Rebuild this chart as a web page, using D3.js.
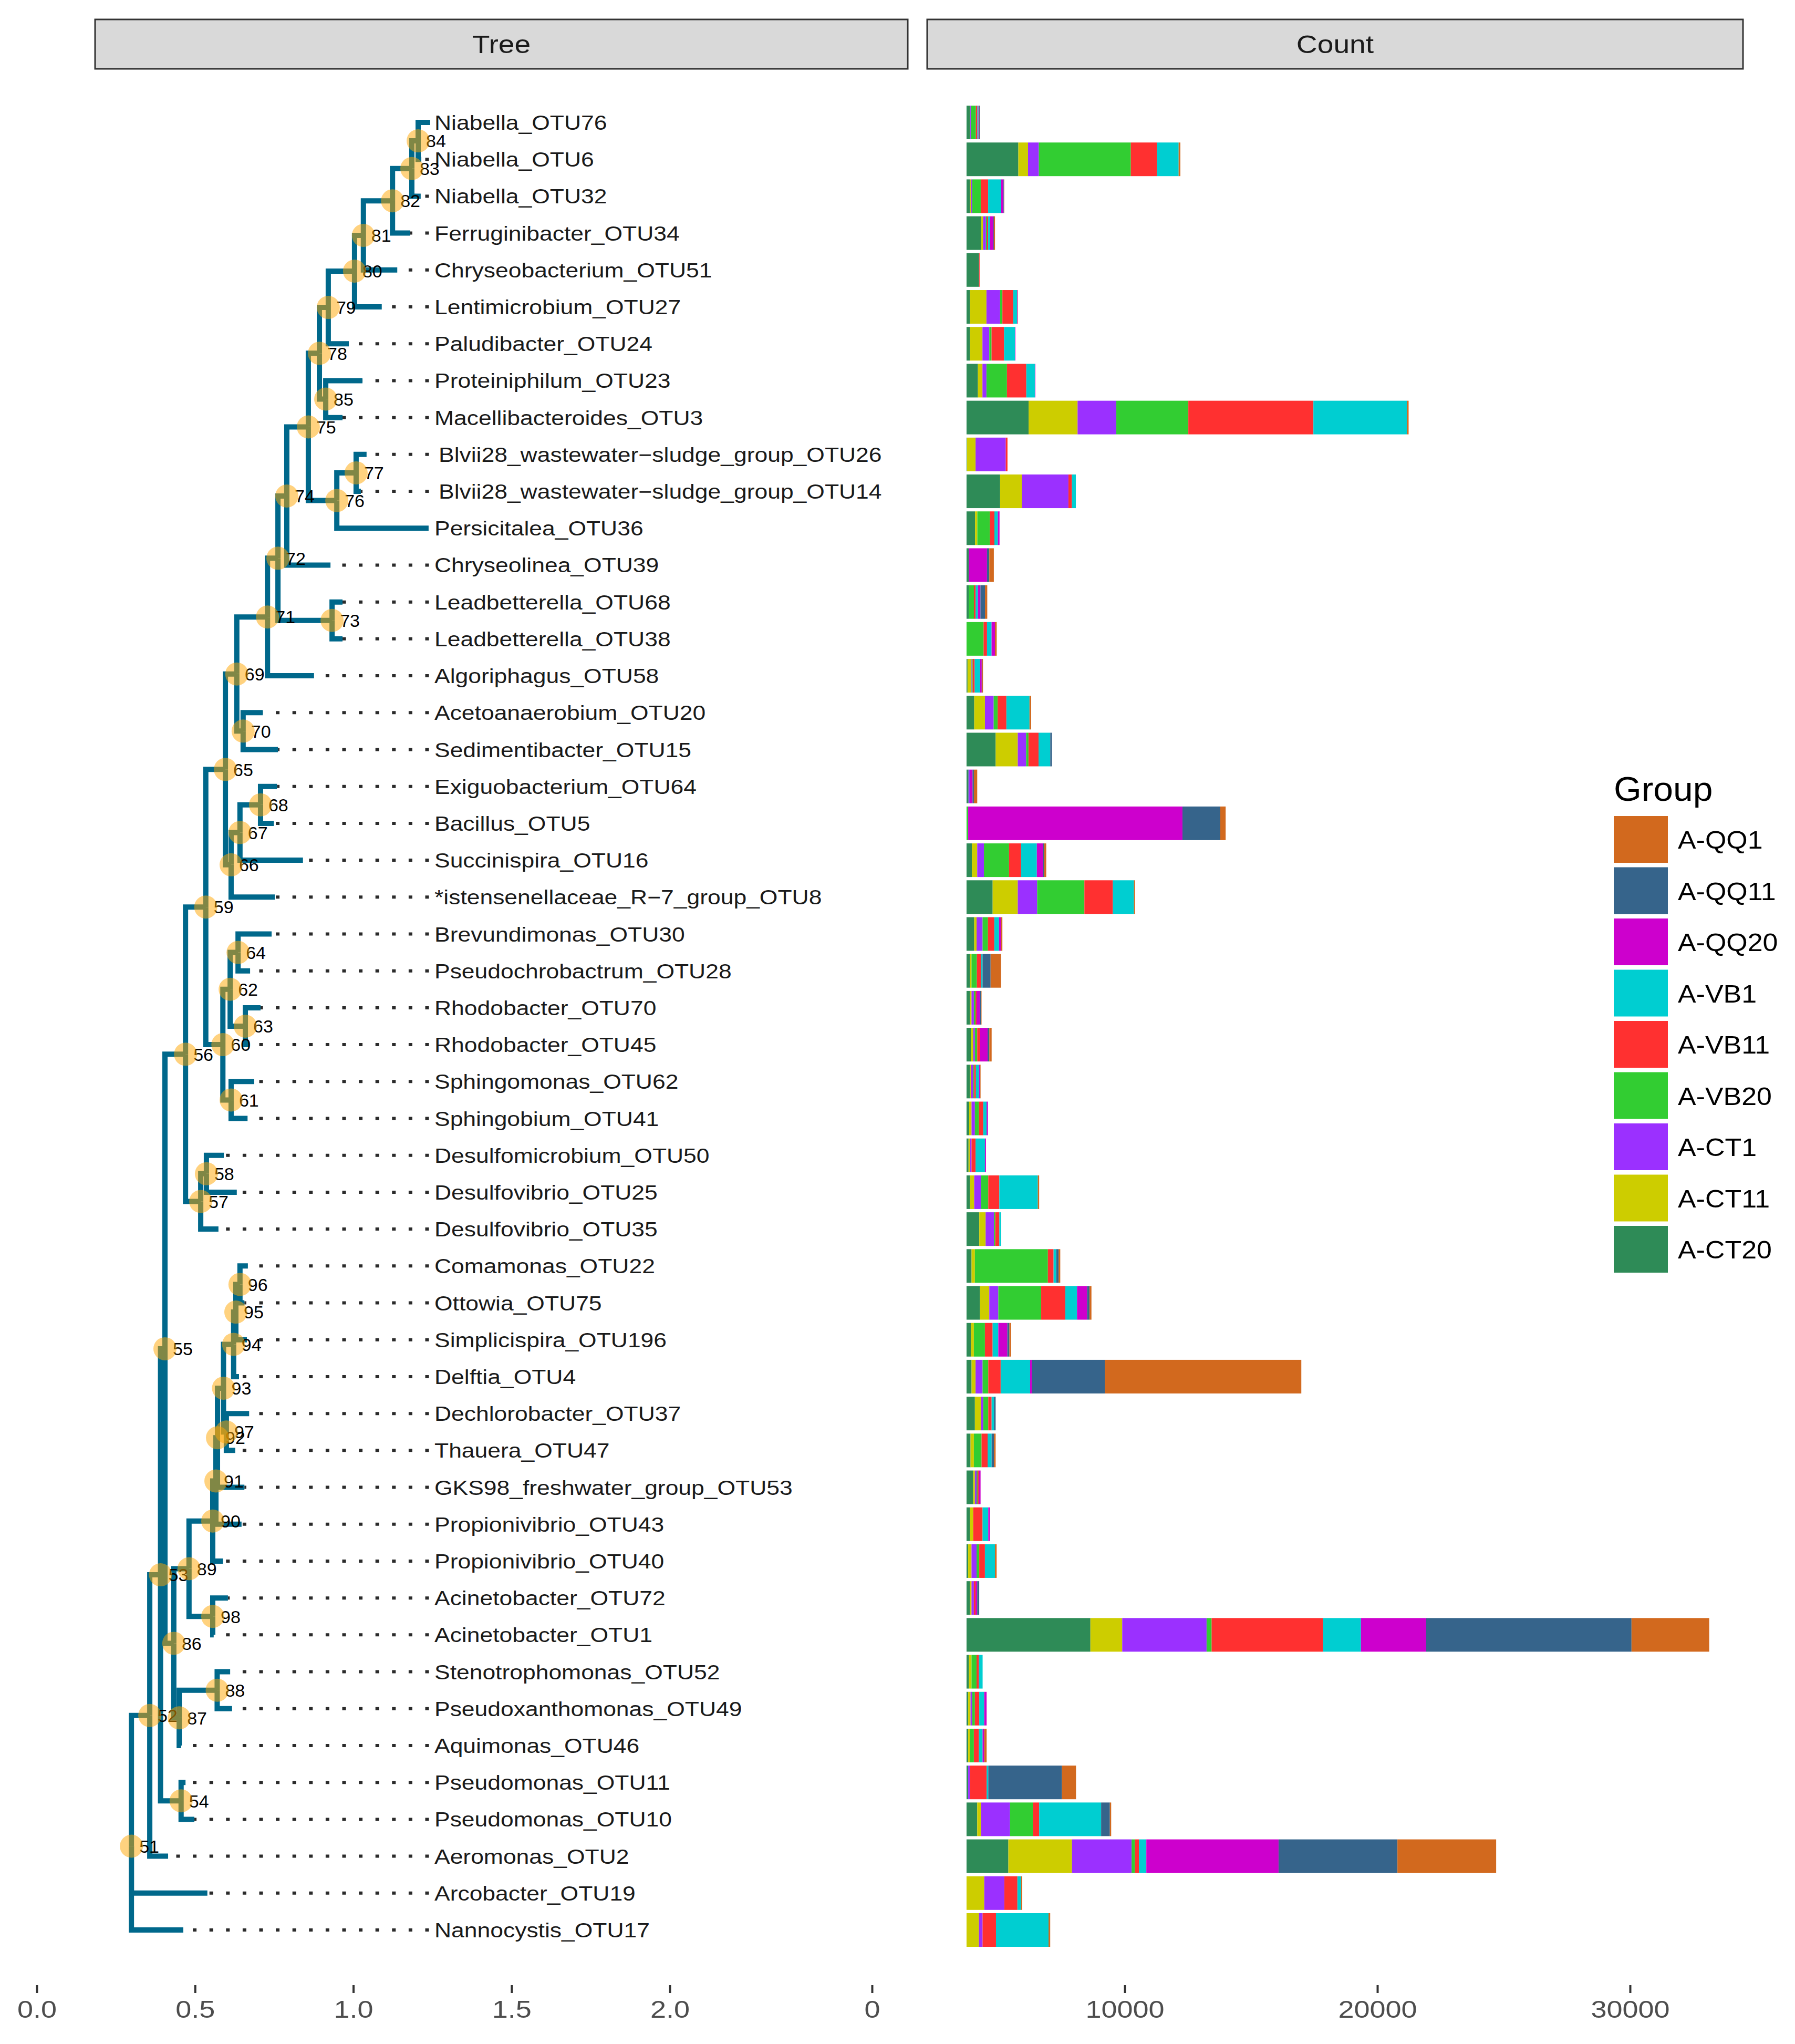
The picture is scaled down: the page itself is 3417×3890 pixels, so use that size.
<!DOCTYPE html>
<html>
<head>
<meta charset="utf-8">
<script src="https://cdn.jsdelivr.net/npm/d3@7"></script>
<style>
  body { margin: 0; background: #fff; }
  text { font-family: "Liberation Sans", Arial, Helvetica, sans-serif; }
</style>
</head>
<body>
<script>
// tips, top to bottom
const tipLabels = [
  "Niabella_OTU76", "Niabella_OTU6", "Niabella_OTU32", "Ferruginibacter_OTU34",
  "Chryseobacterium_OTU51", "Lentimicrobium_OTU27", "Paludibacter_OTU24", "Proteiniphilum_OTU23",
  "Macellibacteroides_OTU3", "Blvii28_wastewater\u2212sludge_group_OTU26", "Blvii28_wastewater\u2212sludge_group_OTU14",
  "Persicitalea_OTU36", "Chryseolinea_OTU39", "Leadbetterella_OTU68", "Leadbetterella_OTU38",
  "Algoriphagus_OTU58", "Acetoanaerobium_OTU20", "Sedimentibacter_OTU15", "Exiguobacterium_OTU64",
  "Bacillus_OTU5", "Succinispira_OTU16", "*istensenellaceae_R\u22127_group_OTU8", "Brevundimonas_OTU30",
  "Pseudochrobactrum_OTU28", "Rhodobacter_OTU70", "Rhodobacter_OTU45", "Sphingomonas_OTU62",
  "Sphingobium_OTU41", "Desulfomicrobium_OTU50", "Desulfovibrio_OTU25", "Desulfovibrio_OTU35",
  "Comamonas_OTU22", "Ottowia_OTU75", "Simplicispira_OTU196", "Delftia_OTU4", "Dechlorobacter_OTU37",
  "Thauera_OTU47", "GKS98_freshwater_group_OTU53", "Propionivibrio_OTU43", "Propionivibrio_OTU40",
  "Acinetobacter_OTU72", "Acinetobacter_OTU1", "Stenotrophomonas_OTU52", "Pseudoxanthomonas_OTU49",
  "Aquimonas_OTU46", "Pseudomonas_OTU11", "Pseudomonas_OTU10", "Aeromonas_OTU2", "Arcobacter_OTU19",
  "Nannocystis_OTU17"
];
const tipParent = [84, 84, 83, 82, 81, 80, 79, 85, 85, 77, 77, 76, 74, 73, 73, 71, 70, 70, 68, 68,
  67, 66, 64, 64, 63, 63, 61, 61, 58, 58, 57, 96, 96, 95, 94, 97, 97, 92, 91, 90,
  98, 98, 88, 88, 87, 54, 54, 52, 51, 51];
const tipDepth = [1.243, 1.215, 1.213, 1.180, 1.139, 1.090, 0.986, 1.029, 0.966, 1.042,
  1.024, 1.238, 0.928, 0.966, 0.966, 0.876, 0.714, 0.762, 0.759, 0.749,
  0.841, 0.752, 0.742, 0.674, 0.707, 0.672, 0.687, 0.666, 0.591, 0.632,
  0.574, 0.667, 0.656, 0.664, 0.639, 0.671, 0.627, 0.656, 0.647, 0.588,
  0.604, 0.559, 0.611, 0.617, 0.456, 0.470, 0.498, 0.415, 0.539, 0.463];

// internal nodes 51..98
const nodeIds = d3.range(51, 99);
const nodeParent = [null, 51, 52, 53, 53, 55, 56, 57, 56, 59, 60, 60, 62, 62, 59, 65, 66, 67, 65, 69,
  69, 71, 72, 72, 74, 75, 76, 75, 78, 79, 80, 81, 82, 83, 78, 55, 86, 87, 86, 89,
  90, 91, 92, 93, 94, 95, 93, 89];
const nodeDepth = [0.299, 0.357, 0.391, 0.456, 0.405, 0.470, 0.518, 0.536, 0.534, 0.588,
  0.614, 0.611, 0.659, 0.636, 0.596, 0.614, 0.642, 0.707, 0.632, 0.652,
  0.729, 0.762, 0.933, 0.790, 0.858, 0.948, 1.009, 0.893, 0.921, 1.004,
  1.032, 1.124, 1.185, 1.205, 0.913, 0.433, 0.450, 0.570, 0.481, 0.556,
  0.566, 0.571, 0.590, 0.622, 0.629, 0.642, 0.599, 0.556];

// counts per group, stacked left to right in this order
const groups = ["A-CT20", "A-CT11", "A-CT1", "A-VB20", "A-VB11", "A-VB1", "A-QQ20", "A-QQ11", "A-QQ1"];
const groupColors = ["#2E8B57", "#CDCD00", "#9B30FF", "#32CD32", "#FF3030", "#00CED1", "#CD00CD", "#36648B", "#D2691E"];
const ct20 = [130, 2051, 135, 586, 496, 135, 135, 451, 2457, 20, 1330, 338, 90, 90, 0, 40, 305, 1153, 80, 0,
  212, 1034, 305, 132, 132, 172, 132, 106, 80, 132, 504, 199, 530, 172, 199, 331, 159, 265, 132, 66,
  132, 4903, 93, 66, 66, 66, 424, 1656, 0, 0];
const ct11 = [20, 383, 45, 68, 0, 654, 496, 180, 1938, 338, 856, 90, 0, 0, 0, 133, 424, 875, 0, 0,
  212, 994, 93, 66, 66, 93, 40, 93, 53, 172, 252, 132, 371, 119, 159, 238, 132, 66, 132, 132,
  66, 1259, 106, 93, 66, 0, 146, 2518, 702, 490];
const ct1 = [20, 428, 45, 113, 0, 541, 270, 158, 1533, 1195, 1848, 0, 0, 0, 0, 30, 345, 331, 53, 0,
  265, 769, 238, 0, 93, 66, 93, 132, 66, 265, 331, 0, 358, 0, 278, 93, 0, 66, 0, 199,
  93, 3339, 0, 66, 0, 66, 1153, 2359, 795, 146];
const vb20 = [200, 3640, 338, 45, 0, 90, 90, 811, 2850, 0, 0, 496, 0, 203, 676, 40, 159, 93, 0, 66,
  994, 1868, 212, 212, 66, 93, 40, 159, 0, 292, 53, 2889, 1696, 437, 225, 199, 305, 40, 0, 106,
  0, 199, 199, 106, 159, 0, 901, 132, 0, 0];
const vb11 = [60, 1037, 293, 45, 22, 428, 496, 766, 4950, 68, 135, 180, 0, 68, 135, 80, 345, 398, 0, 0,
  477, 1126, 252, 172, 40, 106, 66, 172, 159, 437, 159, 225, 954, 305, 490, 132, 238, 53, 371, 225,
  66, 4412, 93, 172, 199, 663, 252, 159, 517, 530];
const vb1 = [40, 856, 518, 68, 0, 158, 428, 338, 3700, 0, 158, 135, 0, 90, 180, 212, 914, 464, 0, 0,
  623, 835, 186, 53, 0, 0, 119, 132, 371, 1524, 66, 106, 464, 225, 1166, 93, 159, 0, 225, 398,
  0, 1497, 146, 199, 146, 66, 2451, 292, 146, 2080];
const qq20 = [20, 0, 90, 135, 0, 20, 20, 20, 0, 0, 0, 68, 721, 100, 135, 66, 0, 0, 106, 8480,
  238, 0, 80, 0, 132, 305, 40, 53, 40, 0, 0, 0, 398, 358, 66, 0, 0, 66, 66, 0,
  66, 2584, 0, 93, 66, 0, 0, 5234, 0, 0];
const qq11 = [30, 0, 20, 22, 0, 0, 0, 0, 0, 0, 0, 0, 90, 180, 0, 20, 0, 66, 53, 1497,
  53, 0, 0, 318, 40, 66, 0, 0, 0, 0, 0, 93, 93, 80, 2889, 66, 93, 0, 0, 0,
  80, 8125, 0, 0, 0, 2915, 345, 4704, 0, 0];
const qq1 = [20, 68, 10, 45, 0, 10, 0, 0, 68, 0, 0, 0, 180, 90, 68, 30, 66, 0, 132, 212,
  80, 40, 53, 411, 26, 93, 26, 0, 0, 53, 0, 66, 80, 66, 7778, 0, 66, 0, 0, 66,
  0, 3075, 0, 0, 93, 557, 53, 3907, 40, 66];

const treeTicks = [0, 0.5, 1, 1.5, 2];
const countTicks = [0, 10000, 20000, 30000];
const countOrigin = 3740; // bars start here on the count axis

const W = 3417, H = 3890;
const font = '"Liberation Sans", Arial, Helvetica, sans-serif';

const svg = d3.select("body").append("svg")
  .attr("width", W).attr("height", H)
  .style("display", "block");

const treeX = d3.scaleLinear().domain([0, 2]).range([70, 1275]);
const countX = d3.scaleLinear().domain([0, 30000]).range([1660, 3103]);
const rowY = d3.scalePoint().domain(tipLabels).range([233, 3673]);
const color = d3.scaleOrdinal().domain(groups).range(groupColors);

// ---- build tree
const nodes = new Map();
nodeIds.forEach((id, i) => nodes.set(id, { id, parent: nodeParent[i], depth: nodeDepth[i], children: [], tip: false }));
tipLabels.forEach((name, i) => {
  const n = { id: "t" + i, name, parent: tipParent[i], depth: tipDepth[i], children: [], tip: true, y: rowY(name) };
  nodes.set(n.id, n);
});
for (const n of nodes.values()) {
  if (n.parent != null) nodes.get(n.parent).children.push(n);
}
function setY(n) {
  if (n.tip) return n.y;
  n.y = d3.mean(n.children, setY);
  return n.y;
}
setY(nodes.get(51));
const all = [...nodes.values()];
const internal = all.filter(n => !n.tip);
const tips = all.filter(n => n.tip);

// ---- strips
const strips = [["Tree", 181, 1728], ["Count", 1765, 3318]];
const strip = svg.append("g").selectAll("g").data(strips).join("g");
strip.append("rect")
  .attr("x", d => d[1]).attr("y", 37)
  .attr("width", d => d[2] - d[1]).attr("height", 94)
  .attr("fill", "#D9D9D9").attr("stroke", "#333").attr("stroke-width", 3);
strip.append("text")
  .attr("transform", d => `translate(${(d[1] + d[2]) / 2},84) scale(1.15,1)`)
  .attr("dy", "0.36em")
  .attr("text-anchor", "middle")
  .style("font-size", "48px")
  .attr("fill", "#1A1A1A")
  .text(d => d[0]);

// ---- dotted leaders (aligned from the label side)
const dotEnd = 816.5;
svg.append("g")
  .selectAll("path")
  .data(tips.filter(d => treeX(d.depth) < dotEnd - 4))
  .join("path")
  .attr("d", d => `M${dotEnd},${d.y}H${treeX(d.depth)}`)
  .attr("stroke", "#2b2b2b")
  .attr("stroke-width", 6)
  .attr("stroke-dasharray", "7 24.6")
  .attr("fill", "none");

// ---- branches
svg.append("g")
  .attr("fill", "none")
  .attr("stroke", "#00688B")
  .attr("stroke-width", 10)
  .attr("stroke-linejoin", "miter")
  .selectAll("path")
  .data(all.filter(n => n.parent != null))
  .join("path")
  .attr("d", n => {
    const p = nodes.get(n.parent);
    return `M${treeX(p.depth)},${p.y}V${n.y}H${treeX(n.depth)}`;
  });

// ---- tip labels
svg.append("g")
  .selectAll("text")
  .data(tips)
  .join("text")
  .attr("transform", d => `translate(${d.name.startsWith("Blvii") ? 835 : 827},${d.y}) scale(1.14,1)`)
  .attr("dy", "0.36em")
  .style("font-size", "39px")
  .attr("fill", "#1A1A1A")
  .text(d => d.name);

// ---- node numbers, then the translucent node points on top
svg.append("g")
  .selectAll("text")
  .data(internal)
  .join("text")
  .attr("x", d => treeX(d.depth) + 15)
  .attr("y", d => d.y)
  .attr("dy", "0.36em")
  .style("font-size", "34px")
  .attr("fill", "#000")
  .text(d => d.id);

svg.append("g")
  .selectAll("circle")
  .data(internal)
  .join("circle")
  .attr("cx", d => treeX(d.depth))
  .attr("cy", d => d.y)
  .attr("r", 22)
  .attr("fill", "#FFA500")
  .attr("fill-opacity", 0.5);

// ---- stacked bars
const rows = tipLabels.map((name, i) => ({
  name,
  "A-CT20": ct20[i], "A-CT11": ct11[i], "A-CT1": ct1[i],
  "A-VB20": vb20[i], "A-VB11": vb11[i], "A-VB1": vb1[i],
  "A-QQ20": qq20[i], "A-QQ11": qq11[i], "A-QQ1": qq1[i]
}));
const series = d3.stack().keys(groups)(rows);
const barH = 64;

svg.append("g")
  .selectAll("g")
  .data(series)
  .join("g")
  .attr("fill", d => color(d.key))
  .selectAll("rect")
  .data(d => d)
  .join("rect")
  .attr("x", d => countX(countOrigin + d[0]))
  .attr("y", d => rowY(d.data.name) - barH / 2)
  .attr("width", d => countX(countOrigin + d[1]) - countX(countOrigin + d[0]))
  .attr("height", barH);

// ---- axes
function styleAxis(g) {
  g.select(".domain").remove();
  g.selectAll(".tick line").attr("stroke", "#333").attr("stroke-width", 4);
  g.selectAll(".tick text")
    .attr("fill", "#4D4D4D")
    .style("font-size", "47px")
    .style("font-family", font)
    .attr("transform", "scale(1.15,1)");
}
svg.append("g")
  .attr("transform", "translate(0,3778)")
  .call(d3.axisBottom(treeX).tickValues(treeTicks).tickFormat(d3.format(".1f")).tickSize(15).tickPadding(14))
  .call(styleAxis);
svg.append("g")
  .attr("transform", "translate(0,3778)")
  .call(d3.axisBottom(countX).tickValues(countTicks).tickFormat(d3.format("d")).tickSize(15).tickPadding(14))
  .call(styleAxis);

// ---- legend
const legendKeys = groups.slice().reverse();
const legend = svg.append("g").attr("transform", "translate(3072,0)");
legend.append("text")
  .attr("transform", "translate(0,1524) scale(1.06,1)")
  .style("font-size", "64px")
  .attr("fill", "#000")
  .text("Group");
const key = legend.selectAll("g.key")
  .data(legendKeys)
  .join("g")
  .attr("class", "key")
  .attr("transform", (d, i) => `translate(0,${1553 + i * 97.5})`);
key.append("rect")
  .attr("width", 103).attr("height", 89)
  .attr("fill", d => color(d));
key.append("text")
  .attr("transform", "translate(122,44.5) scale(1.06,1)")
  .attr("dy", "0.36em")
  .style("font-size", "49px")
  .attr("fill", "#000")
  .text(d => d);
</script>
</body>
</html>
